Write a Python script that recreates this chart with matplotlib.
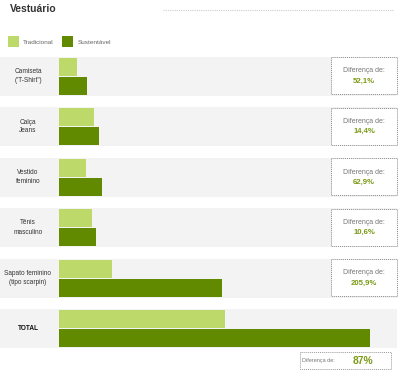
import matplotlib
matplotlib.use('Agg')
import matplotlib.pyplot as plt
from matplotlib.patches import Rectangle

categorias = ['Camiseta\n("T-Shirt")', 'Calça\nJeans', 'Vestido\nfeminino',
              'Tênis\nmasculino', 'Sapato feminino\n(tipo scarpin)', 'TOTAL']
tradicional = [18, 35, 26.5, 33, 53, 166]
sustentavel = [27.5, 40, 43, 37, 163, 311]
diferencas = ['52,1%', '14,4%', '62,9%', '10,6%', '205,9%', '87%']

verde_claro = '#bcd96a'
verde_escuro = '#628a00'
verde_texto = '#7a9a16'
cinza_faixa = '#f3f3f3'

plt.rcParams['font.family'] = ['Liberation Sans', 'DejaVu Sans']

fig = plt.figure(figsize=(4, 3.75), dpi=100)
ax = fig.add_axes([0, 0, 1, 1])
# axis units = pixels, bars start at x=59
ax.set_xlim(-59, 341)
ax.set_ylim(375, 0)
ax.axis('off')

x0 = -59
centros = [76 + i * 50.5 for i in range(len(categorias))]
h = 18

for i, cat in enumerate(categorias):
    c = centros[i]
    ax.add_patch(Rectangle((x0, c - 19.5), 397, 39, facecolor=cinza_faixa,
                           edgecolor='none', zorder=0))
    ax.barh(c - 9.5, tradicional[i], height=h, left=0, color=verde_claro, zorder=2)
    ax.barh(c + 9.5, sustentavel[i], height=h, left=0, color=verde_escuro, zorder=2)
    total = cat == 'TOTAL'
    ax.text(28 + x0, c, cat, ha='center', va='center', fontsize=4.7,
            color='#111111' if total else '#333333',
            fontweight='bold' if total else 'normal', linespacing=1.4)
    if not total:
        ax.add_patch(Rectangle((331 + x0, c - 19), 66, 37, facecolor='white',
                               edgecolor='#888888', linestyle=(0, (1, 1)),
                               linewidth=0.7, zorder=3))
        ax.text(364 + x0, c - 5, 'Diferença de:', ha='center', va='center',
                fontsize=5, color='#777777', zorder=4)
        ax.text(364 + x0, c + 5, diferencas[i], ha='center', va='center',
                fontsize=5.6, color=verde_texto, fontweight='bold', zorder=4)
    else:
        ax.add_patch(Rectangle((300 + x0, 352), 91, 17, facecolor='white',
                               edgecolor='#999999', linestyle=(0, (1, 1)),
                               linewidth=0.7, zorder=3))
        ax.text(302 + x0, 360.5, 'Diferença de:', ha='left', va='center',
                fontsize=4, color='#777777', zorder=4)
        ax.text(363 + x0, 360.5, diferencas[i], ha='center', va='center',
                fontsize=7.4, color=verde_texto, fontweight='bold', zorder=4)

# title and legend
ax.text(10 + x0, 9, 'Vestuário', ha='left', va='center', fontsize=7.4,
        fontweight='bold', color='#333333')
ax.plot([163 + x0, 393 + x0], [9.5, 9.5], color='#cccccc', linewidth=0.8,
        linestyle=(0, (1, 1)))
ax.add_patch(Rectangle((8 + x0, 36), 11, 11, facecolor=verde_claro, edgecolor='none'))
ax.text(23 + x0, 42, 'Tradicional', ha='left', va='center', fontsize=4.6, color='#666666')
ax.add_patch(Rectangle((62 + x0, 36), 11, 11, facecolor=verde_escuro, edgecolor='none'))
ax.text(78 + x0, 42, 'Sustentável', ha='left', va='center', fontsize=4.6, color='#666666')

fig.savefig('out.png', dpi=100)
